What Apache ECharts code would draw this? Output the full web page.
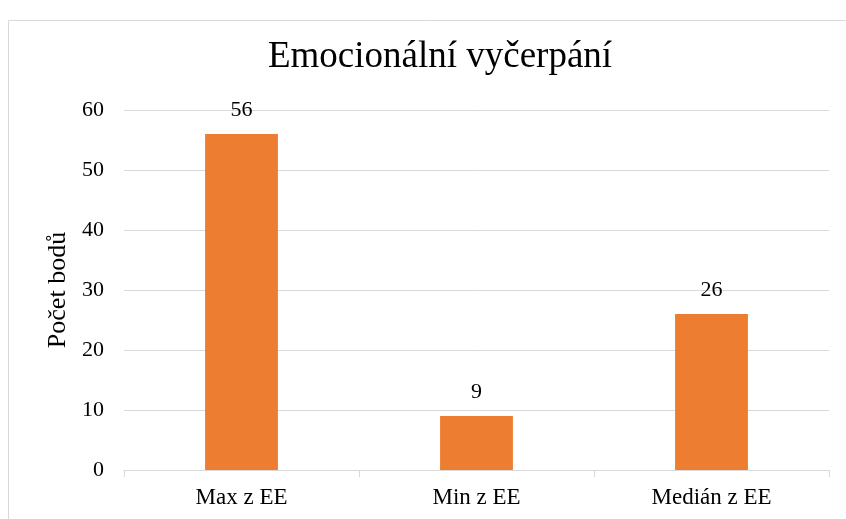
<!DOCTYPE html>
<html><head><meta charset="utf-8">
<script src="https://cdn.jsdelivr.net/npm/echarts@6/dist/echarts.min.js"></script>
<style>html,body{margin:0;padding:0;background:#fff}#c{width:846px;height:519px}</style>
</head><body><div id="c"></div>
<script>
const categories = ['Max z EE', 'Min z EE', 'Medián z EE'];
const values = [56, 9, 26];
const yTicks = [0, 10, 20, 30, 40, 50, 60];
const titleText = 'Emocionální vyčerpání';
const yName = 'Počet bodů';

const FF = "'Liberation Serif','Times New Roman',serif";
const chart = echarts.init(document.getElementById('c'), null, {renderer: 'canvas'});
chart.setOption({
  animation: false,
  backgroundColor: '#fff',
  graphic: [{type: 'rect', shape: {x: 8.5, y: 20.5, width: 900, height: 600}, style: {fill: 'none', stroke: '#d9d9d9', lineWidth: 1}, silent: true}],
  title: {text: titleText, left: 435, top: 34, textAlign: 'center',
    textStyle: {fontFamily: FF, fontSize: 37, fontWeight: 'normal', color: '#000'}},
  grid: {left: 124, right: 17, top: 110, bottom: 49},
  xAxis: {type: 'category', data: categories,
    axisLine: {lineStyle: {color: '#d9d9d9', width: 1}},
    axisTick: {show: true, alignWithLabel: false, length: 7, lineStyle: {color: '#d9d9d9'}},
    axisLabel: {fontFamily: FF, fontSize: 23, color: '#000', margin: 16}},
  yAxis: {type: 'value', min: yTicks[0], max: yTicks[yTicks.length - 1], interval: 10,
    name: yName, nameLocation: 'middle', nameGap: 53, nameRotate: 90,
    nameTextStyle: {fontFamily: FF, fontSize: 26, color: '#000'},
    axisLine: {show: false}, axisTick: {show: false},
    axisLabel: {fontFamily: FF, fontSize: 22, color: '#000', margin: 20},
    splitLine: {lineStyle: {color: '#d9d9d9', width: 1}}},
  series: [{type: 'bar', data: values, barWidth: '31%',
    itemStyle: {color: '#ED7D31'},
    label: {show: true, position: 'top', distance: 13, fontFamily: FF, fontSize: 22, color: '#000'}}]
});
</script></body></html>
